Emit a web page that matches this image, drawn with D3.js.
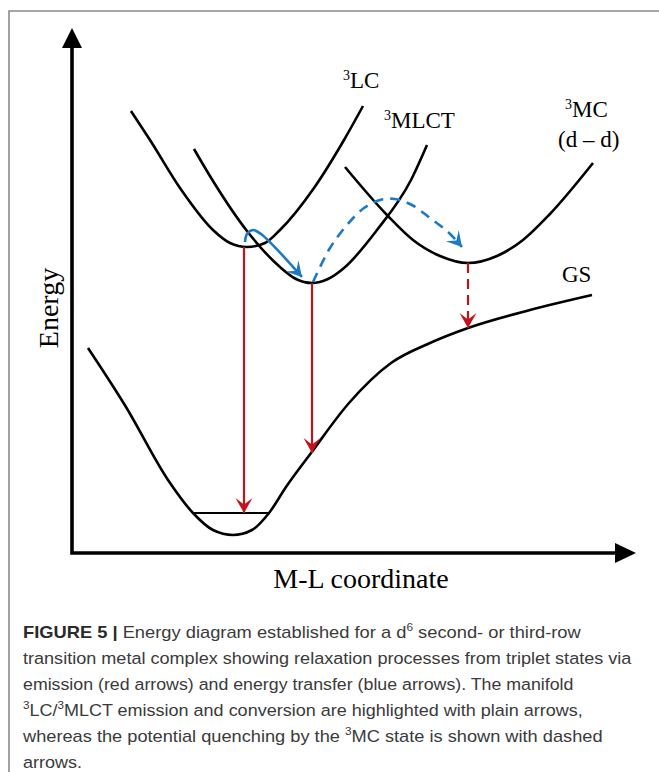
<!DOCTYPE html>
<html>
<head>
<meta charset="utf-8">
<script src="https://cdn.jsdelivr.net/npm/d3@7"></script>
<style>
  body { margin: 0; background: #fff; }
  svg { display: block; }
</style>
</head>
<body>
<script>
// schematic units: coordinate 0..564, energy 0..525
var lc3 = [[59, 442], [78, 413], [108, 365], [141, 323], [158, 310], [175, 306], [193, 310], [208, 323], [242, 365], [272, 413], [291, 447]]
var mlct3 = [[122, 404], [141, 372], [175, 322], [208, 286], [224, 274], [240, 270], [256, 274], [272, 285], [305, 323], [339, 373], [355, 408]]
var mc3 = [[273, 386], [315, 338], [341, 313], [368, 297], [396, 290], [425, 297], [451, 313], [477, 338], [521, 390]]
var gs = [[16, 205], [54, 146], [96, 73], [121, 40], [141, 23], [161, 18], [180, 23], [197, 40], [214, 66], [239, 100], [277, 150], [319, 190], [358, 210], [396, 225], [458, 243], [520, 258]]
var gsLevel = [[121, 40], [197, 40]]

// emission (red): x, from energy, to energy
var emissions = [
  { x: 172, from: 306, to: 40, dashed: false },
  { x: 240, from: 270, to: 100, dashed: false },
  { x: 396, from: 290, to: 225, dashed: true }
]
// energy transfer (blue)
var transferSolid = [[173, 311], [175, 319], [181, 323], [189, 319], [230, 276]]
var transferDashed = [[241, 271], [258, 305], [275, 328], [292, 345], [308, 353], [323, 354], [340, 348], [358, 335], [376, 321], [390, 306]]

var stateLabels = [
  { sup: '3', text: 'LC', x: 271, y: 465 },
  { sup: '3', text: 'MLCT', x: 312, y: 425 },
  { sup: '3', text: 'MC', x: 493, y: 436 },
  { sup: '', text: '(d \u2013 d)', x: 486, y: 406 },
  { sup: '', text: 'GS', x: 490, y: 271 }
]

var captionLines = [
  [['FIGURE 5 |', 'b'], [' Energy diagram established for a d'], ['6', 's'], [' second- or third-row']],
  [['transition metal complex showing relaxation processes from triplet states via']],
  [['emission (red arrows) and energy transfer (blue arrows). The manifold']],
  [['3', 's'], ['LC/'], ['3', 's'], ['MLCT emission and conversion are highlighted with plain arrows,']],
  [['whereas the potential quenching by the '], ['3', 's'], ['MC state is shown with dashed']],
  [['arrows.']]
]
var captionEnds = [581, 632, 574, 583, 603, 82]

var red = '#c0141c'
var blue = '#1c79c4'

var svg = d3.select('body')
  .append('svg')
  .attr('width', 659)
  .attr('height', 772)

var x = d3.scaleLinear().domain([0, 564]).range([72, 636])
var y = d3.scaleLinear().domain([0, 525]).range([553, 28])

// frame
svg.append('path')
  .attr('d', 'M9,772V11H659')
  .attr('fill', 'none')
  .attr('stroke', '#8a8a8a')
  .attr('stroke-width', 1.6)

var defs = svg.append('defs')
function marker (id, color) {
  defs.append('marker')
    .attr('id', id)
    .attr('markerUnits', 'userSpaceOnUse')
    .attr('viewBox', '-16 -9 17 18')
    .attr('refX', 0)
    .attr('refY', 0)
    .attr('markerWidth', 17)
    .attr('markerHeight', 18)
    .attr('orient', 'auto')
    .append('path')
    .attr('d', 'M0,0L-15,-8.5L-8.5,0L-15,8.5Z')
    .attr('fill', color)
}
marker('head-red', red)
marker('head-blue', blue)

// axes
var x0 = x.range()[0], x1 = x.range()[1]
var y0 = y.range()[0], y1 = y.range()[1]
svg.append('path')
  .attr('d', 'M' + x0 + ',' + (y1 + 20) + 'V' + y0 + 'H' + (x1 - 21))
  .attr('fill', 'none')
  .attr('stroke', '#000')
  .attr('stroke-width', 3.6)
  .attr('stroke-linejoin', 'miter')
svg.append('path')
  .attr('d', 'M' + x0 + ',' + y1 + 'L' + (x0 + 10) + ',' + (y1 + 20) + 'L' + (x0 - 10) + ',' + (y1 + 20) + 'Z')
  .attr('fill', '#000')
svg.append('path')
  .attr('d', 'M' + x1 + ',' + y0 + 'L' + (x1 - 21) + ',' + (y0 - 10) + 'L' + (x1 - 21) + ',' + (y0 + 10) + 'Z')
  .attr('fill', '#000')

svg.append('text')
  .attr('transform', 'translate(58,308) rotate(-90)')
  .attr('text-anchor', 'middle')
  .style('font-family', '"Liberation Serif", "Times New Roman", serif')
  .style('font-size', '28px')
  .text('Energy')

svg.append('text')
  .attr('x', 361)
  .attr('y', 588)
  .attr('text-anchor', 'middle')
  .style('font-family', '"Liberation Serif", "Times New Roman", serif')
  .style('font-size', '28px')
  .text('M-L coordinate')

// potential curves
var line = d3.line()
  .x(function (d) { return x(d[0]) })
  .y(function (d) { return y(d[1]) })
  .curve(d3.curveMonotoneX)

svg.selectAll('.state')
  .data([lc3, mlct3, mc3, gs])
  .enter()
  .append('path')
  .attr('class', 'state')
  .attr('d', line)
  .attr('fill', 'none')
  .attr('stroke', '#000')
  .attr('stroke-width', 2.6)

svg.append('path')
  .attr('d', d3.line().x(function (d) { return x(d[0]) }).y(function (d) { return y(d[1]) })(gsLevel))
  .attr('stroke', '#000')
  .attr('stroke-width', 2.2)

// emission arrows
svg.selectAll('.emission')
  .data(emissions)
  .enter()
  .append('line')
  .attr('class', 'emission')
  .attr('x1', function (d) { return x(d.x) })
  .attr('x2', function (d) { return x(d.x) })
  .attr('y1', function (d) { return y(d.from) })
  .attr('y2', function (d) { return y(d.to) })
  .attr('stroke', red)
  .attr('stroke-width', 2.2)
  .attr('stroke-dasharray', function (d) { return d.dashed ? '10,6' : null })
  .attr('marker-end', 'url(#head-red)')

// energy transfer arrows
var bline = d3.line()
  .x(function (d) { return x(d[0]) })
  .y(function (d) { return y(d[1]) })
  .curve(d3.curveCatmullRom.alpha(0.5))

svg.append('path')
  .attr('d', bline(transferSolid))
  .attr('fill', 'none')
  .attr('stroke', blue)
  .attr('stroke-width', 2.6)
  .attr('marker-end', 'url(#head-blue)')

svg.append('path')
  .attr('d', bline(transferDashed))
  .attr('fill', 'none')
  .attr('stroke', blue)
  .attr('stroke-width', 2.6)
  .attr('stroke-dasharray', '10,7')
  .attr('marker-end', 'url(#head-blue)')

// state labels
var labels = svg.selectAll('.label')
  .data(stateLabels)
  .enter()
  .append('text')
  .attr('class', 'label')
  .attr('x', function (d) { return x(d.x) })
  .attr('y', function (d) { return y(d.y) })
  .style('font-family', '"Liberation Serif", "Times New Roman", serif')
  .style('font-size', '23px')
labels.append('tspan')
  .style('font-size', '14px')
  .attr('dy', function (d) { return d.sup ? -8 : 0 })
  .text(function (d) { return d.sup })
labels.append('tspan')
  .attr('dy', function (d) { return d.sup ? 8 : 0 })
  .text(function (d) { return d.text })

// caption
captionLines.forEach(function (segs, i) {
  var t = svg.append('text')
    .attr('x', 0)
    .attr('y', 0)
    .style('font-family', '"Liberation Sans", Arial, sans-serif')
    .style('font-size', '17px')
    .attr('fill', '#3a3a3a')
  var shift = 0
  segs.forEach(function (s) {
    var span = t.append('tspan').text(s[0])
    if (s[1] === 'b') span.style('font-weight', 'bold').attr('fill', '#2a2a2a')
    if (s[1] === 's') {
      span.style('font-size', '11px').attr('dy', -7 - shift)
      shift = -7
    } else if (shift !== 0) {
      span.attr('dy', 7)
      shift = 0
    }
  })
  var w = t.node().getComputedTextLength()
  var sx = (captionEnds[i] - 23) / w
  t.attr('transform', 'translate(23,' + (638 + i * 26) + ') scale(' + sx + ',1)')
})
</script>
</body>
</html>
